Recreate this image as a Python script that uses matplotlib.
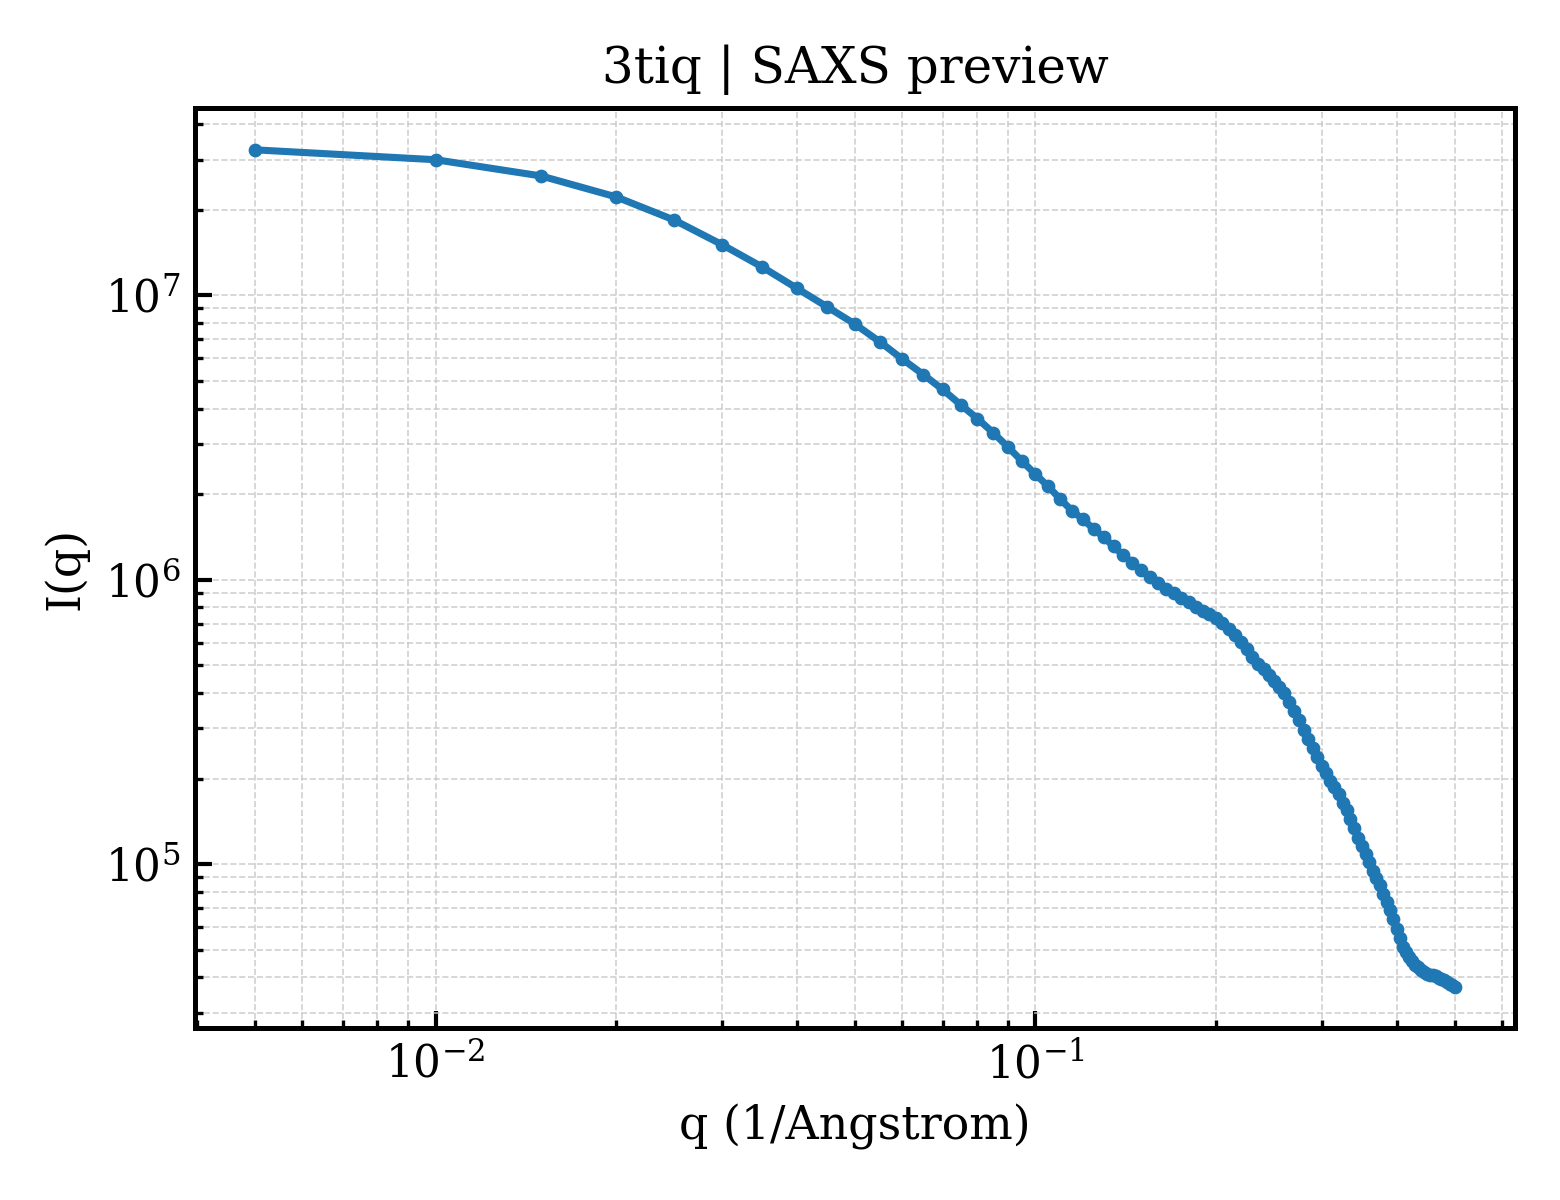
import numpy as np
import matplotlib
matplotlib.use('Agg')
import matplotlib.pyplot as plt

plt.rcParams['font.family'] = 'DejaVu Serif'
plt.rcParams['mathtext.fontset'] = 'dejavuserif'

# q values (1/Angstrom)
q = [0.005, 0.010, 0.015, 0.020, 0.025, 0.030, 0.035, 0.040, 0.045, 0.050,
     0.055, 0.060, 0.065, 0.070, 0.075, 0.080, 0.085, 0.090, 0.095, 0.100,
     0.105, 0.110, 0.115, 0.120, 0.125, 0.130, 0.135, 0.140, 0.145, 0.150,
     0.155, 0.160, 0.165, 0.170, 0.175, 0.180, 0.185, 0.190, 0.195, 0.200,
     0.205, 0.210, 0.215, 0.220, 0.225, 0.230, 0.235, 0.240, 0.245, 0.250,
     0.255, 0.260, 0.265, 0.270, 0.275, 0.280, 0.285, 0.290, 0.295, 0.300,
     0.305, 0.310, 0.315, 0.320, 0.325, 0.330, 0.335, 0.340, 0.345, 0.350,
     0.355, 0.360, 0.365, 0.370, 0.375, 0.380, 0.385, 0.390, 0.395, 0.400,
     0.405, 0.410, 0.415, 0.420, 0.425, 0.430, 0.435, 0.440, 0.445, 0.450,
     0.455, 0.460, 0.465, 0.470, 0.475, 0.480, 0.485, 0.490, 0.495, 0.500]

# scattering intensity I(q)
intensity = [3.25e7, 3.00e7, 2.63e7, 2.22e7, 1.84e7, 1.51e7, 1.26e7, 1.06e7, 9.10e6, 7.93e6,
             6.87e6, 5.97e6, 5.27e6, 4.67e6, 4.13e6, 3.69e6, 3.29e6, 2.93e6, 2.61e6, 2.35e6,
             2.13e6, 1.92e6, 1.75e6, 1.63e6, 1.51e6, 1.41e6, 1.31e6, 1.22e6, 1.148e6, 1.081e6,
             1.022e6, 9.76e5, 9.31e5, 8.95e5, 8.64e5, 8.32e5, 8.05e5, 7.79e5, 7.57e5, 7.33e5,
             7.06e5, 6.72e5, 6.37e5, 6.04e5, 5.69e5, 5.36e5, 5.06e5, 4.85e5, 4.62e5, 4.40e5,
             4.21e5, 4.00e5, 3.72e5, 3.45e5, 3.22e5, 2.97e5, 2.76e5, 2.57e5, 2.38e5, 2.22e5,
             2.09e5, 1.96e5, 1.86e5, 1.76e5, 1.64e5, 1.55e5, 1.44e5, 1.34e5, 1.24e5, 1.16e5,
             1.087e5, 1.014e5, 9.47e4, 8.91e4, 8.41e4, 7.88e4, 7.37e4, 6.88e4, 6.40e4, 5.90e4,
             5.49e4, 5.13e4, 4.91e4, 4.71e4, 4.55e4, 4.43e4, 4.33e4, 4.24e4, 4.18e4, 4.12e4,
             4.09e4, 4.06e4, 4.03e4, 3.99e4, 3.95e4, 3.90e4, 3.85e4, 3.80e4, 3.75e4, 3.71e4]

title = '3tiq | SAXS preview'

fig, ax = plt.subplots(figsize=(5.2, 4), dpi=300)
ax.plot(q, intensity, '-o', color='#1f77b4', lw=1.7, markersize=2.3)
ax.set_xscale('log')
ax.set_yscale('log')
ax.set_xlabel('q (1/Angstrom)', fontsize=11)
ax.set_ylabel('I(q)', fontsize=11)
ax.set_title(title, fontsize=12)
ax.grid(True, which='both', ls='--', lw=0.4, color='#c8c8c8', alpha=0.85)
ax.tick_params(which='both', direction='in', labelsize=10.5)
ax.tick_params(which='major', length=4, width=1.0)
ax.tick_params(which='minor', length=2, width=0.8)
for s in ax.spines.values():
    s.set_linewidth(1.2)

plt.subplots_adjust(left=0.125, right=0.971, top=0.91, bottom=0.143)
plt.savefig('out.png', dpi=300)
